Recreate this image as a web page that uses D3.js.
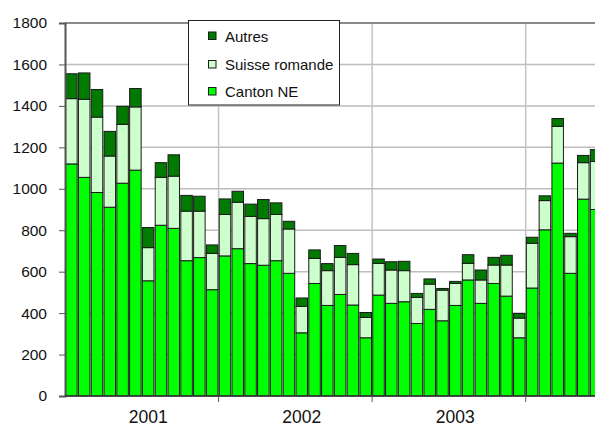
<!DOCTYPE html>
<html>
<head>
<meta charset="utf-8">
<script src="https://cdn.jsdelivr.net/npm/d3@7"></script>
<style>
  html, body { margin: 0; padding: 0; background: #fff; }
  svg { display: block; font-family: "Liberation Sans", Arial, sans-serif; }
</style>
</head>
<body>
<svg id="chart" width="595" height="428"></svg>
<script>
// ---- Data (monthly, Jan 2001 onwards) ----
const years = ["2001", "2002", "2003", "2004"];
const months = d3.range(42).map(i => years[Math.floor(i / 12)] + "-" + String(i % 12 + 1).padStart(2, "0"));
const cantonNE = [1120, 1055, 982, 911, 1027, 1090, 556, 824, 809, 653, 668, 513,
                  676, 711, 639, 631, 653, 592, 305, 543, 437, 490, 439, 281,
                  487, 447, 455, 350, 418, 363, 437, 560, 447, 543, 482, 281,
                  521, 802, 1124, 592, 950, 900];
const suisseRomande = [315, 377, 364, 247, 284, 305, 160, 231, 252, 239, 224, 175,
                       200, 224, 228, 225, 223, 214, 127, 121, 168, 179, 195, 98,
                       153, 161, 150, 126, 122, 148, 106, 80, 113, 89, 150, 95,
                       216, 141, 177, 177, 176, 232];
const autres = [120, 127, 133, 119, 87, 89, 97, 71, 103, 76, 72, 41,
                75, 53, 59, 92, 56, 37, 41, 41, 34, 57, 54, 24,
                21, 40, 45, 19, 25, 8, 10, 42, 48, 37, 47, 22,
                29, 23, 38, 16, 35, 57];
const seriesNames = ["Canton NE", "Suisse romande", "Autres"];
const seriesColors = ["#00ff00", "#ccffcc", "#007a00"];
const yTicks = [0, 200, 400, 600, 800, 1000, 1200, 1400, 1600, 1800];

(function () {
// ---- Layout ----
const svg = d3.select("#chart");
const mLeft = 65, mTop = 23, mBottom = 396;
const step = (525.7 - 65) / 36;
const mRight = mLeft + step * months.length;

const x = d3.scaleBand().domain(months).range([mLeft, mRight]).paddingInner(0.1).paddingOuter(0.05);
const y = d3.scaleLinear().domain([0, 1800]).range([mBottom, mTop]);

const table = months.map((m, i) => ({ month: m, "Canton NE": cantonNE[i], "Suisse romande": suisseRomande[i], "Autres": autres[i] }));
const stacked = d3.stack().keys(seriesNames)(table);

// gridlines
svg.append("g").selectAll("line").data(yTicks.filter(t => t > 0 && t < 1800)).join("line")
  .attr("x1", mLeft).attr("x2", 595).attr("y1", d => y(d)).attr("y2", d => y(d))
  .attr("stroke", "#bdbdbd").attr("stroke-width", 1.5);

const yearStarts = years.slice(1).map(yr => months.indexOf(yr + "-01")).filter(i => i >= 0);
const boundaryX = i => x(months[i]) - step * x.paddingInner() / 2;
svg.append("g").selectAll("line").data(yearStarts).join("line")
  .attr("x1", d => boundaryX(d)).attr("x2", d => boundaryX(d))
  .attr("y1", mTop).attr("y2", mBottom)
  .attr("stroke", "#c4c4c4").attr("stroke-width", 1.5);

// top border
svg.append("line").attr("x1", mLeft).attr("x2", 595).attr("y1", y(1800)).attr("y2", y(1800))
  .attr("stroke", "#8a8a8a").attr("stroke-width", 2);

// bars
svg.append("g").selectAll("g").data(stacked).join("g")
  .attr("fill", (d, i) => seriesColors[i])
  .selectAll("rect").data(d => d).join("rect")
  .attr("x", d => x(d.data.month))
  .attr("width", x.bandwidth())
  .attr("y", d => y(d[1]))
  .attr("height", d => y(d[0]) - y(d[1]))
  .attr("stroke", "#1a1a1a").attr("stroke-width", 1);

// y axis
const yAxis = d3.axisLeft(y).tickValues(yTicks).tickSize(6).tickPadding(12).tickFormat(d3.format("d"));
const ya = svg.append("g").attr("transform", `translate(${mLeft},0)`).call(yAxis);
ya.select(".domain").attr("stroke", "#555").attr("stroke-width", 2);
ya.selectAll(".tick line").attr("stroke", "#555");
ya.selectAll(".tick text").attr("font-size", "15.5px").attr("fill", "#111")
  .attr("font-family", "Liberation Sans, Arial, sans-serif");

// x axis line
svg.append("line").attr("x1", mLeft).attr("x2", 595).attr("y1", mBottom).attr("y2", mBottom)
  .attr("stroke", "#333").attr("stroke-width", 1.5);
// year tick marks
svg.append("g").selectAll("line").data(yearStarts).join("line")
  .attr("x1", d => boundaryX(d)).attr("x2", d => boundaryX(d))
  .attr("y1", mBottom).attr("y2", mBottom + 6)
  .attr("stroke", "#555").attr("stroke-width", 1);

// year labels (centered on July)
svg.append("g").selectAll("text").data(years.filter(yr => months.indexOf(yr + "-07") >= 0)).join("text")
  .attr("x", yr => x(yr + "-07") + x.bandwidth() / 2)
  .attr("y", 423)
  .attr("text-anchor", "middle")
  .attr("font-size", "17.5px").attr("fill", "#111")
  .text(yr => yr);

// legend
const lg = svg.append("g");
lg.append("rect").attr("x", 188.5).attr("y", 20.5).attr("width", 151).attr("height", 84.5)
  .attr("fill", "#fff").attr("stroke", "#222").attr("stroke-width", 1);
const legendOrder = ["Autres", "Suisse romande", "Canton NE"];
const legendY = [36, 64.5, 91.5];
legendOrder.forEach((name, i) => {
  const ci = seriesNames.indexOf(name);
  lg.append("rect").attr("x", 208.5).attr("y", legendY[i] - 4).attr("width", 7.5).attr("height", 7.5)
    .attr("fill", seriesColors[ci]).attr("stroke", "#1a1a1a").attr("stroke-width", 1);
  lg.append("text").attr("x", 225).attr("y", legendY[i] + 5.5)
    .attr("font-size", "15px").attr("fill", "#111").text(name);
});
})();
</script>
</body>
</html>
